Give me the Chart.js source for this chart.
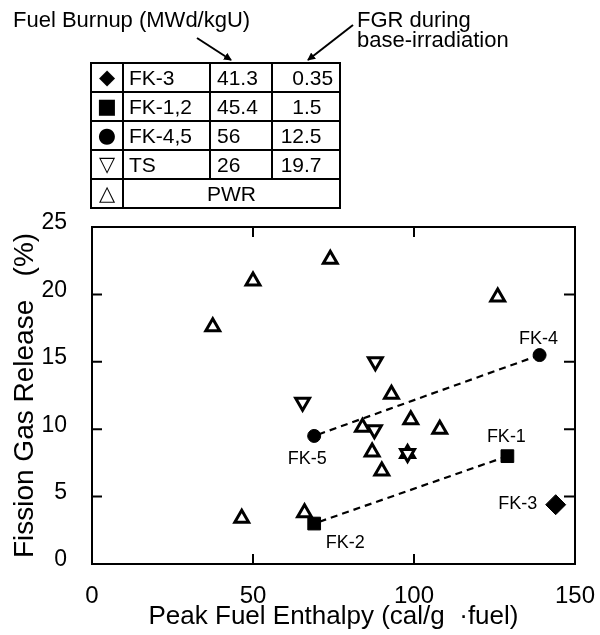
<!DOCTYPE html>
<html>
<head>
<meta charset="utf-8">
<script src="https://cdn.jsdelivr.net/npm/chart.js@4/dist/chart.umd.min.js"></script>
<style>
  html, body { margin: 0; padding: 0; background: #fff; }
  #wrap { position: relative; width: 600px; height: 635px; font-family: "Liberation Sans", Arial, sans-serif; color: #000; }
  #plot { position: absolute; left: 0; top: 0; }
  .hdr { position: absolute; font-size: 22px; line-height: 22px; white-space: nowrap; }
  #arrows { position: absolute; left: 0; top: 0; }
  #key { position: absolute; left: 90px; top: 62px; border-collapse: collapse; table-layout: fixed; font-size: 21px; }
  #key td { border: 2px solid #000; padding: 0; white-space: nowrap; overflow: hidden; line-height: 21px; }
  #key tr { height: 29px; }
  #key td.sym { text-align: center; font-family: "DejaVu Sans", sans-serif; font-size: 21px; }
  #key td.name { padding-left: 5px; }
  #key td.bu { padding-left: 6px; }
  #key td.fgr { padding: 0; }
  #key td.fgr span.i { display: inline-block; width: 31px; text-align: right; }
  #key td.wide { text-align: center; }
</style>
</head>
<body>
<div id="wrap">
  <canvas id="plot" width="600" height="635"></canvas>
  <div class="hdr" style="left:13px; top:9px;">Fuel Burnup (MWd/kgU)</div>
  <div class="hdr" style="left:357px; top:9px;">FGR during</div>
  <div class="hdr" style="left:357px; top:29px;">base-irradiation</div>
  <svg id="arrows" width="600" height="80">
    <defs>
      <marker id="head" markerWidth="8" markerHeight="8" refX="7" refY="4" orient="auto" markerUnits="userSpaceOnUse">
        <path d="M0,0 L8,4 L0,8 Z" fill="#000"/>
      </marker>
    </defs>
    <line x1="197" y1="38" x2="231" y2="60" stroke="#000" stroke-width="2" marker-end="url(#head)"/>
    <line x1="353" y1="25" x2="308" y2="60" stroke="#000" stroke-width="2" marker-end="url(#head)"/>
  </svg>
  <table id="key">
    <colgroup><col style="width:32px"><col style="width:87px"><col style="width:62px"><col style="width:68px"></colgroup>
    <tbody></tbody>
  </table>
</div>
<script>
// Key table contents
const keySymbols = ['\u25C6', '\u25A0', '\u25CF', '\u25BD', '\u25B3'];
const keyNames = ['FK-3', 'FK-1,2', 'FK-4,5', 'TS', 'PWR'];
const keyBurnup = ['41.3', '45.4', '56', '26'];
const keyBaseFGR = ['0.35', '1.5', '12.5', '19.7'];

// PWR test rods (open up-triangles)
const pwrEnthalpy = [37.5, 50, 74, 126, 93, 99, 108, 84, 87, 90, 98, 46.5, 66];
const pwrFGR      = [17.6, 21.0, 22.6, 19.8, 12.6, 10.7, 10.0, 10.15, 8.3, 6.9, 8.2, 3.4, 3.8];

// TS rods (open down-triangles)
const tsEnthalpy = [88, 65.4, 87.7, 98];
const tsFGR      = [15.0, 12.0, 9.95, 8.2];

// FK rods (filled markers)
const fk45Names = ['FK-4', 'FK-5'];
const fk45Enthalpy = [139, 69];
const fk45FGR = [15.5, 9.5];

const fk12Names = ['FK-1', 'FK-2'];
const fk12Enthalpy = [129, 69];
const fk12FGR = [8.0, 3.0];

const fk3Names = ['FK-3'];
const fk3Enthalpy = [144];
const fk3FGR = [4.4];

// Axes
const xMin = 0, xMax = 150, xStep = 50;
const yMin = 0, yMax = 25, yStep = 5;

// Build the key table
(function buildKey() {
  const tb = document.querySelector('#key tbody');
  keyNames.forEach((name, i) => {
    const tr = document.createElement('tr');
    const s = document.createElement('td');
    s.className = 'sym';
    s.textContent = keySymbols[i];
    tr.appendChild(s);
    if (i < keyBurnup.length) {
      const n = document.createElement('td'); n.className = 'name'; n.textContent = name; tr.appendChild(n);
      const b = document.createElement('td'); b.className = 'bu'; b.textContent = keyBurnup[i]; tr.appendChild(b);
      const f = document.createElement('td'); f.className = 'fgr';
      const parts = keyBaseFGR[i].split('.');
      const ip = document.createElement('span'); ip.className = 'i'; ip.textContent = parts[0];
      const fp = document.createElement('span'); fp.textContent = '.' + (parts[1] || '');
      f.appendChild(ip); f.appendChild(fp);
      tr.appendChild(f);
    } else {
      const w = document.createElement('td'); w.className = 'wide'; w.colSpan = 3; w.textContent = name; tr.appendChild(w);
    }
    tb.appendChild(tr);
  });
})();

const pts = (xs, ys) => xs.map((x, i) => ({ x, y: ys[i] }));

// Label placement (pixel offsets from each marker)
const labelOffsets = { 'FK-4': [-1, -16], 'FK-5': [-7, 23], 'FK-1': [-1, -19], 'FK-2': [31, 19], 'FK-3': [-38, -1] };

const framePlugin = {
  id: 'frame',
  afterDatasetsDraw(chart) {
    const { ctx, chartArea: a, scales: { x, y } } = chart;
    ctx.save();
    ctx.strokeStyle = '#000';
    ctx.lineWidth = 2;
    ctx.strokeRect(a.left, a.top, a.right - a.left, a.bottom - a.top);
    ctx.beginPath();
    for (let v = yMin + yStep; v < yMax; v += yStep) {
      const py = y.getPixelForValue(v);
      ctx.moveTo(a.left, py); ctx.lineTo(a.left + 10, py);
      ctx.moveTo(a.right, py); ctx.lineTo(a.right - 11, py);
    }
    for (let v = xMin + xStep; v < xMax; v += xStep) {
      const px = x.getPixelForValue(v);
      ctx.moveTo(px, a.bottom); ctx.lineTo(px, a.bottom - 10);
      ctx.moveTo(px, a.top); ctx.lineTo(px, a.top + 10);
    }
    ctx.stroke();

    // Rod labels
    ctx.fillStyle = '#000';
    ctx.font = '18px "Liberation Sans", Arial, sans-serif';
    ctx.textAlign = 'center';
    ctx.textBaseline = 'middle';
    const groups = [[fk45Names, fk45Enthalpy, fk45FGR], [fk12Names, fk12Enthalpy, fk12FGR], [fk3Names, fk3Enthalpy, fk3FGR]];
    groups.forEach(([names, xs, ys]) => {
      names.forEach((nm, i) => {
        const o = labelOffsets[nm];
        ctx.fillText(nm, x.getPixelForValue(xs[i]) + o[0], y.getPixelForValue(ys[i]) + o[1]);
      });
    });
    ctx.restore();
  }
};

const openMarker = { backgroundColor: '#fff', borderColor: '#000', borderWidth: 3, pointRadius: 8 };

new Chart(document.getElementById('plot'), {
  type: 'scatter',
  data: {
    datasets: [
      { label: 'FK-4,5 trend', type: 'line', data: pts(fk45Enthalpy, fk45FGR), borderColor: '#000', borderWidth: 2.2, borderDash: [7, 5], pointRadius: 0, fill: false, order: 10 },
      { label: 'FK-1,2 trend', type: 'line', data: pts(fk12Enthalpy, fk12FGR), borderColor: '#000', borderWidth: 2.2, borderDash: [7, 5], pointRadius: 0, fill: false, order: 10 },
      { label: 'PWR', data: pts(pwrEnthalpy, pwrFGR), pointStyle: 'triangle', ...openMarker, order: 3 },
      { label: 'TS', data: pts(tsEnthalpy, tsFGR), pointStyle: 'triangle', rotation: 180, ...openMarker, order: 2 },
      { label: 'FK-4,5', data: pts(fk45Enthalpy, fk45FGR), pointStyle: 'circle', pointRadius: 6.5, backgroundColor: '#000', borderColor: '#000', borderWidth: 1, order: 1 },
      { label: 'FK-1,2', data: pts(fk12Enthalpy, fk12FGR), pointStyle: 'rect', pointRadius: 9, backgroundColor: '#000', borderColor: '#000', borderWidth: 1, order: 1 },
      { label: 'FK-3', data: pts(fk3Enthalpy, fk3FGR), pointStyle: 'rectRot', pointRadius: 10, backgroundColor: '#000', borderColor: '#000', borderWidth: 1, order: 1 }
    ]
  },
  options: {
    responsive: false,
    animation: false,
    devicePixelRatio: 1,
    layout: { padding: { top: 227, right: 25, left: 0, bottom: 0 } },
    plugins: { legend: { display: false }, tooltip: { enabled: false } },
    scales: {
      x: {
        type: 'linear', min: xMin, max: xMax,
        grid: { display: false, drawTicks: false },
        border: { display: false },
        ticks: { stepSize: xStep, color: '#000', padding: 18, font: { size: 24, family: '"Liberation Sans", Arial, sans-serif' }, maxRotation: 0 },
        title: { display: true, text: 'Peak Fuel Enthalpy (cal/g  \u00B7fuel)', color: '#000', font: { size: 26, family: '"Liberation Sans", Arial, sans-serif' }, padding: { top: 3, bottom: 3 } },
        afterFit(s) { s.height = 71; s.paddingLeft = 0; s.paddingRight = 0; }
      },
      y: {
        type: 'linear', min: yMin, max: yMax,
        grid: { display: false, drawTicks: false },
        border: { display: false },
        ticks: { stepSize: yStep, color: '#000', padding: 25, labelOffset: -4, font: { size: 23, family: '"Liberation Sans", Arial, sans-serif' } },
        title: { display: true, text: 'Fission Gas Release   (%)', color: '#000', font: { size: 28, family: '"Liberation Sans", Arial, sans-serif' }, padding: { top: 8, bottom: 8 } },
        afterFit(s) { s.width = 92; s.paddingTop = 0; s.paddingBottom = 0; }
      }
    }
  },
  plugins: [framePlugin]
});
</script>
</body>
</html>
